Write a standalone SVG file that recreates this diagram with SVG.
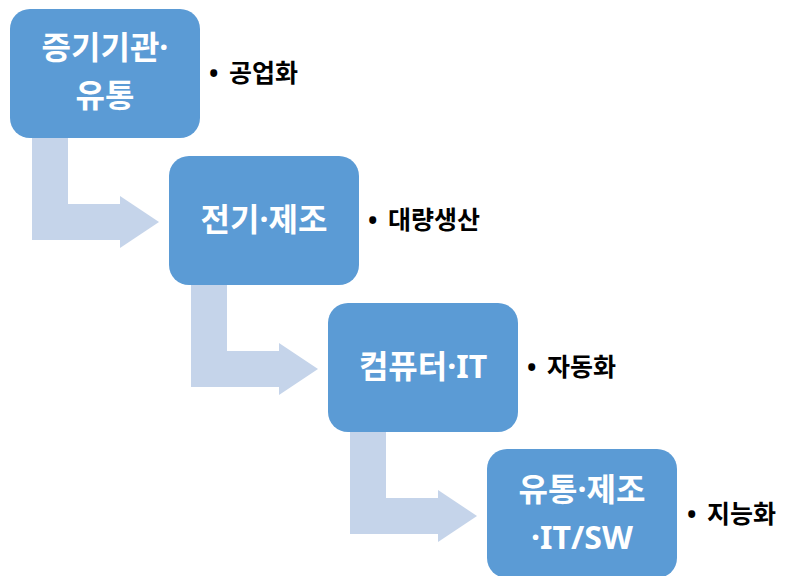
<svg xmlns="http://www.w3.org/2000/svg" width="785" height="576" viewBox="0 0 785 576">
<style>
.box{fill:#5B9BD5;}
.arr{fill:#C5D4EA;}
.bt{font-family:"Noto Sans","Noto Sans CJK KR",sans-serif;font-weight:bold;font-size:32px;fill:#FFFFFF;text-anchor:middle;}
.lb{font-family:"Noto Sans","Noto Sans CJK KR",sans-serif;font-weight:bold;font-size:25px;fill:#000000;}
</style>
<rect width="785" height="576" fill="#FFFFFF"/>
<g id="connectors">
<path class="arr" d="M32,138 L68,138 L68,204 L120,204 L120,196 L159,222 L120,248 L120,240 L32,240 Z"/>
<path class="arr" transform="translate(159,147)" d="M32,138 L68,138 L68,204 L120,204 L120,196 L159,222 L120,248 L120,240 L32,240 Z"/>
<path class="arr" transform="translate(318,294)" d="M32,138 L68,138 L68,204 L120,204 L120,196 L159,222 L120,248 L120,240 L32,240 Z"/>
</g>
<g id="node1">
<rect class="box" x="10" y="9" width="190" height="129" rx="20"/>
<text class="bt" x="105" y="59">증기기관·</text>
<text class="bt" x="105" y="107">유통</text>
<text class="lb" x="209" y="82">•</text>
<text class="lb" x="229" y="82">공업화</text>
</g>
<g id="node2">
<rect class="box" x="169" y="156" width="190" height="129" rx="20"/>
<text class="bt" x="264" y="231">전기·제조</text>
<text class="lb" x="368" y="229">•</text>
<text class="lb" x="388" y="229">대량생산</text>
</g>
<g id="node3">
<rect class="box" x="328" y="303" width="190" height="129" rx="20"/>
<text class="bt" x="423" y="378">컴퓨터·IT</text>
<text class="lb" x="527" y="376">•</text>
<text class="lb" x="547" y="376">자동화</text>
</g>
<g id="node4">
<rect class="box" x="487" y="449" width="190" height="129" rx="20"/>
<text class="bt" x="582" y="501">유통·제조</text>
<text class="bt" x="582" y="549">·IT/SW</text>
<text class="lb" x="687" y="523">•</text>
<text class="lb" x="707" y="523">지능화</text>
</g>
</svg>
